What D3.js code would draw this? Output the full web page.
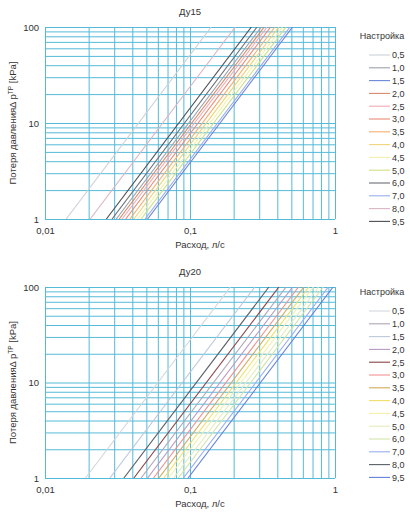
<!DOCTYPE html>
<html><head><meta charset="utf-8">
<script src="https://cdn.jsdelivr.net/npm/d3@7"></script>
<style>
body{margin:0;background:#fff;}
svg text{font-family:"Liberation Sans",Arial,sans-serif;fill:#333;}
</style></head>
<body><svg id="c" width="410" height="512"></svg>
<script>
// ---- data ----
const settings = ["0,5","1,0","1,5","2,0","2,5","3,0","3,5","4,0","4,5","5,0","6,0","7,0","8,0","9,5"];
// flow (l/s) at a pressure loss of 1 kPa, per setting
const flow15 = [0.0140,0.0310,0.0510,0.0325,0.0340,0.0360,0.0385,0.0410,0.0435,0.0460,0.0290,0.0490,0.0205,0.0265];
const flow20 = [0.0190,0.0460,0.0280,0.0510,0.0410,0.0560,0.0610,0.0660,0.0710,0.0770,0.0830,0.0900,0.0350,0.0970];
const colors15 = ["#cdd1d7","#9aa2ac","#6a86d8","#d88a6a","#f2aab4","#ea8a74","#f4b070","#f0d478","#f2f0a8","#cfe084","#6a6e76","#98aeea","#dab6c4","#4a4e56"];
const colors20 = ["#d3d7dc","#aea6b6","#bcc8dc","#b898c0","#8a4444","#f09292","#d4a85a","#f0e068","#f4f0a8","#e4ecbc","#d4e4a8","#98aef0","#5a5e66","#6280da"];
const xTicks = [0.01,0.1,1];
const xTickLabels = ["0,01","0,1","1"];
const yTicks = [1,10,100];
const yTickLabels = ["1","10","100"];
const pressureRange = [1,100];
const titles = ["Ду15","Ду20"];

// ---- drawing ----
const svg = d3.select("#c");
const gridColor = "#55bad8";

function gridValues(lo, hi){
  const out=[];
  for(let d=lo; d<hi; d*=10){ for(let k=1;k<10;k++) out.push(+(d*k).toPrecision(3)); }
  out.push(hi);
  return out;
}

function chart(top, bottom, title, flows, colors, legendTop, id){
  const left=45, right=335;
  const x = d3.scaleLog().domain([0.01,1]).range([left,right]);
  const y = d3.scaleLog().domain([1,100]).range([bottom,top]);
  const g = svg.append("g");

  // grid
  g.append("g").attr("transform",`translate(0,${bottom})`)
    .call(d3.axisBottom(x).tickValues(gridValues(0.01,1)).tickSize(-(bottom-top)).tickFormat(""))
    .call(a=>{a.select(".domain").remove(); a.selectAll("line").attr("stroke",gridColor).attr("stroke-width",1);});
  g.append("g").attr("transform",`translate(${left},0)`)
    .call(d3.axisLeft(y).tickValues(gridValues(1,100)).tickSize(-(right-left)).tickFormat(""))
    .call(a=>{a.select(".domain").remove(); a.selectAll("line").attr("stroke",gridColor).attr("stroke-width",1);});

  // tick labels
  g.append("g").attr("transform",`translate(${left},0)`)
    .call(d3.axisLeft(y).tickValues(yTicks).tickSize(0).tickPadding(6).tickFormat((d,i)=>yTickLabels[i]))
    .call(a=>{a.select(".domain").remove(); a.selectAll("text").style("font-size","9.5px").style("font-family","Liberation Sans, Arial, sans-serif").attr("fill","#333");});
  g.append("g").attr("transform",`translate(0,${bottom})`)
    .call(d3.axisBottom(x).tickValues(xTicks).tickSize(0).tickPadding(8).tickFormat((d,i)=>xTickLabels[i]))
    .call(a=>{a.select(".domain").remove(); a.selectAll("text").style("font-size","9.5px").style("font-family","Liberation Sans, Arial, sans-serif").attr("fill","#333");});

  // clip
  svg.append("clipPath").attr("id","clip"+id).append("rect")
    .attr("x",left).attr("y",top).attr("width",right-left).attr("height",bottom-top);

  const line = d3.line().x(d=>x(d[0])).y(d=>y(d[1]));
  g.append("g").attr("clip-path",`url(#clip${id})`)
    .selectAll("path").data(flows).join("path")
    .attr("d",(q)=>line(pressureRange.map(p=>[q*Math.sqrt(p),p])))
    .attr("fill","none").attr("stroke",(d,i)=>colors[i]).attr("stroke-width",1.1);

  // title
  g.append("text").attr("x",190).attr("y",top-12).attr("text-anchor","middle")
    .style("font-size","9.5px").text(title);
  // x title
  g.append("text").attr("x",200).attr("y",bottom+29).attr("text-anchor","middle")
    .style("font-size","9.5px").text("Расход, л/с");
  // y title
  const yt = g.append("text").attr("transform",`translate(16,${(top+bottom)/2}) rotate(-90)`)
    .attr("text-anchor","middle").style("font-size","9.5px");
  yt.append("tspan").text("Потеря давленияΔ p");
  yt.append("tspan").attr("dy",-3).style("font-size","6.5px").text("TP");
  yt.append("tspan").attr("dy",3).text(" [kPa]");

  // legend
  const lg = g.append("g");
  lg.append("text").attr("x",382).attr("y",legendTop).attr("text-anchor","middle")
    .style("font-size","9px").text("Настройка");
  const rows = lg.selectAll("g.r").data(settings).join("g").attr("class","r")
    .attr("transform",(d,i)=>`translate(0,${legendTop+16+i*12.8})`);
  rows.append("line").attr("x1",369).attr("x2",390).attr("y1",0).attr("y2",0)
    .attr("stroke",(d,i)=>colors[i]).attr("stroke-width",1.1);
  rows.append("text").attr("x",392).attr("y",3.3).style("font-size","9px").text(d=>d);
}

chart(27,219,titles[0],flow15,colors15,39,1);
chart(287,478,titles[1],flow20,colors20,295,2);
</script></body></html>
